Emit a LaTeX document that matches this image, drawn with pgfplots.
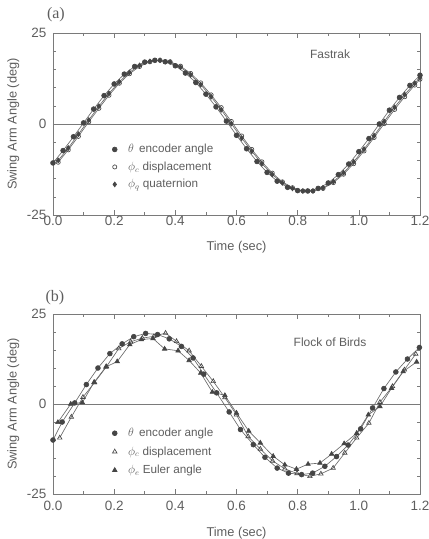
\documentclass[border=0pt]{standalone}
\usepackage{fontspec}
\setmainfont{Liberation Sans}
\newfontfamily\seriffont{Liberation Serif}
\usepackage{pgfplots}
\pgfplotsset{compat=1.18}
\definecolor{txt}{HTML}{5E5E5E}
\definecolor{ln}{HTML}{6A6A6A}
\definecolor{mk}{HTML}{454545}
\definecolor{ax}{HTML}{7A7A7A}

\pgfplotsset{
  panel/.style={
    scale only axis, width=367pt, clip=false,
    xmin=0, xmax=1.2, ymin=-25, ymax=25,
    xtick={0,0.2,0.4,0.6,0.8,1.0,1.2},
    xticklabels={0.0,0.2,0.4,0.6,0.8,1.0,1.2},
    minor xtick={0.1,0.3,0.5,0.7,0.9,1.1},
    ytick={-25,0,25}, yticklabels={-25,0,25},
    minor ytick={-20,-15,-10,-5,5,10,15,20},
    tick align=inside, major tick length=5pt, minor tick length=3pt,
    axis line style={draw=ax, line width=0.6pt},
    every tick/.style={draw=ax, line width=0.5pt},
    tick label style={font=\fontsize{13.5}{15}\selectfont, text=txt},
    yticklabel style={xshift=-3pt},
    ylabel={Swing Arm Angle (deg)},
    xlabel={Time (sec)},
    every axis y label/.style={at={(axis description cs:-0.108,0.5)}, rotate=90, anchor=center,
      font=\fontsize{12.8}{15}\selectfont, text=txt},
    legend style={draw=none, fill=none, font=\fontsize{11.7}{14}\selectfont, text=txt,
      legend cell align=left, row sep=3.5pt, column sep=9pt},
    legend image code/.code={\draw[##1, only marks] plot coordinates {(0.1cm,0cm)};},
    every axis plot/.append style={line width=0.65pt, draw=ln},
  },
  enc/.style={mark=*, mark size=2.4pt, mark options={solid, draw=mk, fill=mk}},
  dispa/.style={mark=o, mark size=2.1pt, mark options={solid, draw=mk, fill=white}},
  quat/.style={mark=diamond*, mark size=2.4pt, mark options={solid, draw=mk, fill=mk}},
  dispb/.style={mark=triangle, mark size=2.6pt, mark options={solid, draw=mk, fill=white}},
  euler/.style={mark=triangle*, mark size=2.6pt, mark options={solid, draw=mk, fill=mk}},
}

\begin{document}
\begin{tikzpicture}
\useasboundingbox (0,0) rectangle (429pt,539pt);

% ---------------- (a) Fastrak ----------------
\begin{axis}[panel, height=182pt, at={(53pt,324pt)}, anchor=south west,
  xticklabel style={yshift=2pt},
  every axis x label/.style={at={(axis description cs:0.5,-0.176)}, anchor=center,
    font=\fontsize{12.8}{15}\selectfont, text=txt},
  legend style={at={(axis description cs:0.153,0.264)}, anchor=west}]
\addplot[ax, line width=0.6pt, forget plot] coordinates {(0,0) (1.2,0)};
\addplot[enc] coordinates {
(0,-10.7) (0.033,-7.3) (0.067,-3.5) (0.1,0.3) (0.133,4.1) (0.167,7.8) (0.2,11.0)
(0.233,13.7) (0.267,15.8) (0.3,17.0) (0.333,17.5) (0.367,17.1) (0.4,16.0)
(0.433,14.0) (0.467,11.4) (0.5,8.2) (0.533,4.7) (0.567,0.8) (0.6,-3.1)
(0.633,-6.8) (0.667,-10.3) (0.7,-13.3) (0.733,-15.7) (0.767,-17.4) (0.8,-18.3)
(0.833,-18.4) (0.867,-17.7) (0.9,-16.2) (0.933,-13.9) (0.967,-11.0) (1.0,-7.6)
(1.033,-4.0) (1.067,0.0) (1.1,3.8) (1.133,7.3) (1.167,10.6) (1.2,13.4)};
\addlegendentry{$\theta$\, encoder angle}
\addplot[dispa] coordinates {
(0.017,-10.5) (0.05,-7.1) (0.083,-3.4) (0.117,0.6) (0.15,4.3) (0.183,7.9)
(0.217,11.2) (0.25,13.8) (0.283,15.8) (0.317,17.1) (0.35,17.5) (0.383,17.1)
(0.417,15.9) (0.45,13.9) (0.483,11.3) (0.517,8.0) (0.55,4.5) (0.583,0.7)
(0.617,-3.3) (0.65,-7.0) (0.683,-10.4) (0.717,-13.5) (0.75,-15.9) (0.783,-17.5)
(0.817,-18.4) (0.85,-18.4) (0.883,-17.7) (0.917,-16.1) (0.95,-13.8) (0.983,-10.9)
(1.017,-7.4) (1.05,-3.7) (1.083,0.1) (1.117,4.0) (1.15,7.5) (1.183,10.7) (1.2,12.3)};
\addlegendentry{$\phi_c$ displacement}
\addplot[quat] coordinates {
(0.017,-10.0) (0.05,-6.6) (0.083,-2.8) (0.117,1.1) (0.15,4.9) (0.183,8.4)
(0.217,11.6) (0.25,14.2) (0.283,16.1) (0.317,17.2) (0.35,17.5) (0.383,17.0)
(0.417,15.6) (0.45,13.5) (0.483,10.8) (0.517,7.5) (0.55,3.9) (0.583,0.1)
(0.617,-3.9) (0.65,-7.5) (0.683,-10.9) (0.717,-13.9) (0.75,-16.2) (0.783,-17.7)
(0.817,-18.4) (0.85,-18.4) (0.883,-17.5) (0.917,-15.8) (0.95,-13.4) (0.983,-10.4)
(1.017,-6.9) (1.05,-3.2) (1.083,0.7) (1.117,4.6) (1.15,8.1) (1.183,11.2) (1.2,12.8)};
\addlegendentry{$\phi_q$ quaternion}
\node[font=\fontsize{12}{14}\selectfont, text=txt] at (axis description cs:0.755,0.885) {Fastrak};
\node[font=\seriffont\fontsize{16}{18}\selectfont, text=txt] at (axis description cs:0.008,1.099) {(a)};
\end{axis}

% ---------------- (b) Flock of Birds ----------------
\begin{axis}[panel, height=180pt, at={(53pt,45pt)}, anchor=south west,
  xticklabel style={yshift=-4pt},
  every axis x label/.style={at={(axis description cs:0.5,-0.217)}, anchor=center,
    font=\fontsize{12.8}{15}\selectfont, text=txt},
  legend style={at={(axis description cs:0.153,0.235)}, anchor=west, row sep=4.5pt}]
\addplot[ax, line width=0.6pt, forget plot] coordinates {(0,0) (1.2,0)};
\addplot[enc] coordinates {
(0,-10.0) (0.03,-5.0) (0.071,0.3) (0.109,5.4) (0.147,10.0) (0.186,14.0)
(0.226,16.7) (0.264,18.7) (0.303,19.6) (0.342,19.3) (0.38,18.1) (0.42,16.0)
(0.458,12.8) (0.493,8.3) (0.535,3.1) (0.576,-2.2) (0.613,-7.1) (0.655,-11.3)
(0.693,-14.8) (0.733,-17.8) (0.77,-19.2) (0.813,-19.6) (0.849,-19.2) (0.889,-17.3)
(0.927,-14.6) (0.965,-11.4) (1.006,-6.9) (1.045,-1.1) (1.082,4.3) (1.121,8.9)
(1.159,12.5) (1.198,15.7)};
\addlegendentry{$\theta$\, encoder angle}
\addplot[dispb] coordinates {
(0.022,-9.4) (0.06,-3.6) (0.098,1.9) (0.136,6.0) (0.175,10.4) (0.215,15.4)
(0.254,17.3) (0.292,18.3) (0.33,18.8) (0.368,19.7) (0.404,17.4) (0.445,14.8)
(0.485,10.5) (0.524,6.3) (0.562,1.8) (0.6,-3.0) (0.638,-9.0) (0.678,-12.5)
(0.718,-15.8) (0.758,-18.0) (0.798,-19.3) (0.84,-20.1) (0.876,-19.4) (0.916,-17.8)
(0.954,-13.6) (0.993,-9.4) (1.033,-5.3) (1.069,0.5) (1.11,4.9) (1.149,9.5) (1.186,13.9)};
\addlegendentry{$\phi_c$ displacement}
\addplot[euler] coordinates {
(0.016,-5.1) (0.058,0.0) (0.096,0.4) (0.134,6.0) (0.173,10.3) (0.21,11.8)
(0.251,16.5) (0.289,17.9) (0.327,18.2) (0.365,15.3) (0.409,14.8) (0.445,12.1)
(0.483,8.6) (0.521,3.3) (0.562,2.4) (0.6,-2.5) (0.64,-7.5) (0.678,-10.8)
(0.72,-14.5) (0.758,-16.9) (0.796,-18.1) (0.834,-16.7) (0.873,-16.4) (0.911,-13.9)
(0.952,-11.0) (0.993,-8.1) (1.031,-3.0) (1.069,-0.7) (1.107,4.4) (1.145,9.0) (1.189,11.7)};
\addlegendentry{$\phi_e$ Euler angle}
\node[font=\fontsize{12}{14}\selectfont, text=txt] at (axis description cs:0.755,0.842) {Flock of Birds};
\node[font=\seriffont\fontsize{16}{18}\selectfont, text=txt] at (axis description cs:0.005,1.089) {(b)};
\end{axis}
\end{tikzpicture}
\end{document}
